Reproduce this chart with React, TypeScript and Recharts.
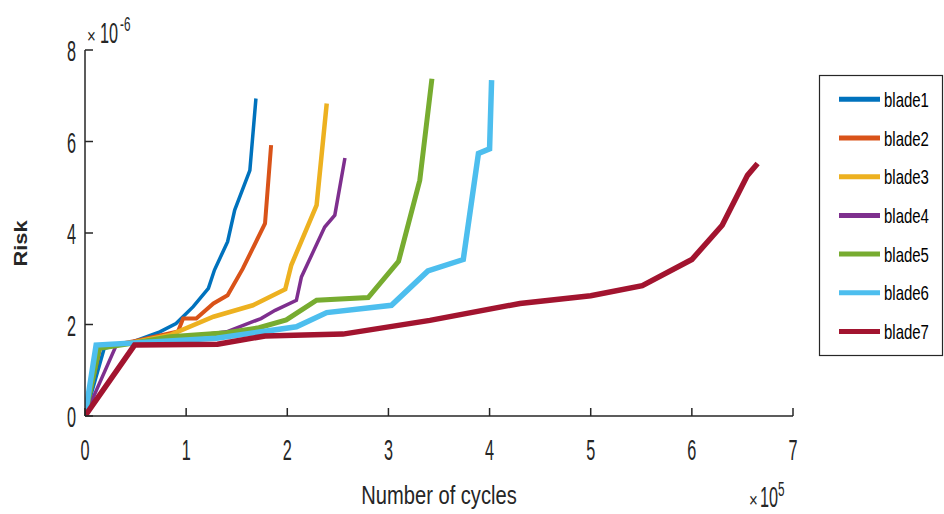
import { LineChart, Line, XAxis, YAxis } from 'recharts';

// cycles in units of 1e5, risk in units of 1e-6
const blade1Cycles = [0, 0.19, 0.47, 0.74, 0.9, 1.07, 1.22, 1.28, 1.41, 1.48, 1.63, 1.69];
const blade1Risk = [0, 1.48, 1.62, 1.84, 2.02, 2.39, 2.79, 3.19, 3.81, 4.5, 5.37, 6.94];

const blade2Cycles = [0, 0.15, 0.5, 0.92, 0.97, 1.1, 1.27, 1.41, 1.56, 1.78, 1.84];
const blade2Risk = [0, 1.5, 1.64, 1.85, 2.13, 2.13, 2.46, 2.64, 3.22, 4.21, 5.92];

const blade3Cycles = [0, 0.12, 0.5, 0.84, 1.27, 1.66, 1.98, 2.04, 2.29, 2.39];
const blade3Risk = [0, 1.5, 1.62, 1.77, 2.17, 2.42, 2.77, 3.3, 4.61, 6.83];

const blade4Cycles = [0, 0.31, 0.8, 1.4, 1.74, 1.88, 2.09, 2.14, 2.37, 2.47, 2.57];
const blade4Risk = [0, 1.55, 1.68, 1.84, 2.13, 2.31, 2.53, 3.04, 4.13, 4.39, 5.64];

const blade5Cycles = [0, 0.14, 0.5, 0.84, 1.4, 1.72, 1.99, 2.29, 2.8, 3.1, 3.31, 3.43];
const blade5Risk = [0, 1.48, 1.6, 1.73, 1.82, 1.93, 2.1, 2.53, 2.59, 3.38, 5.15, 7.37];

const blade6Cycles = [0, 0.11, 1.3, 2.09, 2.39, 3.03, 3.39, 3.74, 3.89, 4.0, 4.02];
const blade6Risk = [0, 1.55, 1.7, 1.95, 2.26, 2.42, 3.17, 3.42, 5.74, 5.84, 7.34];

const blade7Cycles = [0, 0.49, 1.31, 1.78, 2.55, 3.41, 4.3, 5.0, 5.51, 6.0, 6.3, 6.55, 6.65];
const blade7Risk = [0, 1.55, 1.57, 1.75, 1.79, 2.09, 2.46, 2.63, 2.85, 3.42, 4.17, 5.26, 5.52];

const seriesNames = ['blade1', 'blade2', 'blade3', 'blade4', 'blade5', 'blade6', 'blade7'];
const xTicks = [0, 1, 2, 3, 4, 5, 6, 7];
const yTicks = [0, 2, 4, 6, 8];

const COLORS = ['#0072BD', '#D95319', '#EDB120', '#7E2F8E', '#77AC30', '#4DBEEE', '#A2142F'];
const WIDTHS = [3.5, 4, 4.5, 3.5, 5, 5.5, 5.5];
const FONT = '"Liberation Sans", Arial, sans-serif';
const INK = '#262626';

const allCycles = [blade1Cycles, blade2Cycles, blade3Cycles, blade4Cycles, blade5Cycles, blade6Cycles, blade7Cycles];
const allRisk = [blade1Risk, blade2Risk, blade3Risk, blade4Risk, blade5Risk, blade6Risk, blade7Risk];

const series = seriesNames.map((name, i) => ({
  name,
  data: allCycles[i].map((c, j) => ({ cycles: c, risk: allRisk[i][j] })),
}));

const XTick = (props: any) => {
  const { x, y, payload } = props;
  return (
    <text
      transform={`translate(${x} ${y + 36}) scale(0.56 1)`}
      textAnchor="middle"
      fontFamily={FONT}
      fontSize={29}
      fill={INK}
    >
      {payload.value}
    </text>
  );
};

const YTick = (props: any) => {
  const { x, y, payload } = props;
  return (
    <text
      transform={`translate(${x} ${y + 11}) scale(0.56 1)`}
      textAnchor="end"
      fontFamily={FONT}
      fontSize={29}
      fill={INK}
    >
      {payload.value}
    </text>
  );
};

export default function App() {
  return (
    <div style={{ position: 'absolute', left: 0, top: 0, width: 944, height: 514, background: '#fff' }}>
      <LineChart
        width={944}
        height={514}
        margin={{ top: 50, right: 151, bottom: 58, left: 45 }}
      >
        <XAxis
          dataKey="cycles"
          type="number"
          domain={[0, 7]}
          ticks={xTicks}
          interval={0}
          height={40}
          tickSize={-8}
          tickMargin={16}
          stroke={INK}
          strokeWidth={1.5}
          tick={<XTick />}
          allowDataOverflow
        />
        <XAxis
          xAxisId="top"
          orientation="top"
          type="number"
          domain={[0, 7]}
          ticks={xTicks}
          interval={0}
          height={0}
          tickSize={-8}
          tick={false}
          stroke={INK}
          strokeWidth={1.5}
          allowDataOverflow
        />
        <YAxis
          type="number"
          domain={[0, 8]}
          ticks={yTicks}
          interval={0}
          width={40}
          tickSize={-8}
          tickMargin={17}
          stroke={INK}
          strokeWidth={1.5}
          tick={<YTick />}
          allowDataOverflow
        />
        <YAxis
          yAxisId="right"
          orientation="right"
          type="number"
          domain={[0, 8]}
          ticks={yTicks}
          interval={0}
          width={0}
          tickSize={-8}
          tick={false}
          stroke={INK}
          strokeWidth={1.5}
          allowDataOverflow
        />
        {series.map((s, i) => (
          <Line
            key={s.name}
            data={s.data}
            dataKey="risk"
            name={s.name}
            type="linear"
            stroke={COLORS[i]}
            strokeWidth={WIDTHS[i]}
            dot={false}
            activeDot={false}
            isAnimationActive={false}
          />
        ))}
      </LineChart>
      <svg
        width={944}
        height={514}
        style={{ position: 'absolute', left: 0, top: 0, pointerEvents: 'none' }}
      >
        {/* exponent labels */}
        <g fontFamily={FONT} fill={INK}>
          <text transform="translate(87 43) scale(0.75 1)" fontSize={20}>×</text>
          <text transform="translate(100 43) scale(0.56 1)" fontSize={29}>10</text>
          <text transform="translate(120 31) scale(0.56 1)" fontSize={21}>-6</text>
          <text transform="translate(749 507) scale(0.75 1)" fontSize={20}>×</text>
          <text transform="translate(760 507) scale(0.56 1)" fontSize={29}>10</text>
          <text transform="translate(778 496) scale(0.56 1)" fontSize={21}>5</text>
        </g>
        {/* axis titles */}
        <text
          transform="translate(439 504) scale(0.76 1)"
          textAnchor="middle"
          fontFamily={FONT}
          fontSize={26.5}
          fill={INK}
        >
          Number of cycles
        </text>
        <text
          transform="translate(27 243.5) rotate(-90) scale(1.15 1)"
          textAnchor="middle"
          fontFamily={FONT}
          fontWeight="bold"
          fontSize={19}
          fill={INK}
        >
          Risk
        </text>
        {/* legend */}
        <rect x={819.5} y={75.5} width={123} height={280} fill="#fff" stroke={INK} strokeWidth={1.2} />
        {series.map((s, i) => {
          const cy = 99.3 + i * 38.7;
          return (
            <g key={s.name}>
              <line x1={839} x2={880} y1={cy} y2={cy} stroke={COLORS[i]} strokeWidth={5} />
              <text
                transform={`translate(884 ${cy + 7.5}) scale(0.73 1)`}
                fontFamily={FONT}
                fontSize={20.5}
                fill="#000"
              >
                {s.name}
              </text>
            </g>
          );
        })}
      </svg>
    </div>
  );
}
